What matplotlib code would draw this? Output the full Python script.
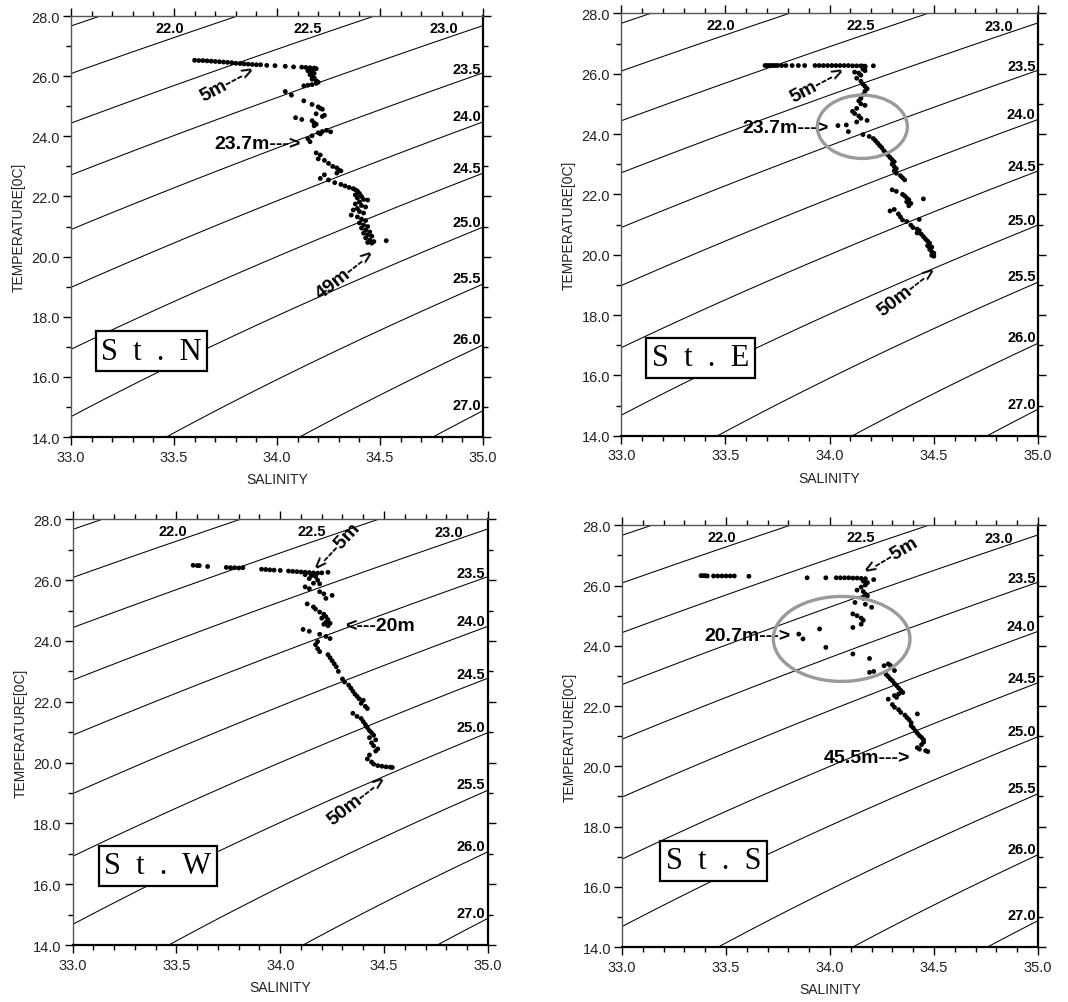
import numpy as np
import matplotlib
matplotlib.use("Agg")
import matplotlib.pyplot as plt
from matplotlib.patches import Ellipse
from matplotlib.ticker import MultipleLocator, FormatStrFormatter

plt.rcParams['font.family'] = ['Liberation Sans', 'DejaVu Sans']

# ---------------- data ----------------
sigma_levels = [21.0, 21.5, 22.0, 22.5, 23.0, 23.5, 24.0, 24.5, 25.0, 25.5, 26.0]

top_labels = ["22.0", "22.5", "23.0"]
top_label_sal = [33.48, 34.15, 34.81]
top_label_temp = [27.61, 27.61, 27.59]
right_labels = ["23.5", "24.0", "24.5", "25.0", "25.5", "26.0", "27.0"]
right_label_temp = [26.25, 24.66, 22.93, 21.16, 19.28, 17.27, 15.05]

sal_N = [33.60, 33.62, 33.64, 33.66, 33.68, 33.70, 33.72, 33.74, 33.76, 33.78, 33.80, 33.82, 33.84,
         33.86, 33.88, 33.90, 33.92, 33.95, 33.99, 34.04, 34.08, 34.12,
         34.14, 34.16, 34.18, 34.19, 34.17, 34.15, 34.17, 34.18, 34.16, 34.17, 34.18, 34.17, 34.19,
         34.20, 34.19, 34.17, 34.15, 34.13,
         34.04, 34.07, 34.13, 34.17, 34.20, 34.21, 34.22, 34.19, 34.23, 34.22, 34.09, 34.12, 34.17,
         34.18, 34.19, 34.18, 34.20, 34.22, 34.24, 34.26, 34.21, 34.17, 34.15, 34.16, 34.19, 34.21,
         34.20, 34.23, 34.25, 34.27, 34.29, 34.30, 34.31, 34.29, 34.23, 34.21, 34.25, 34.28, 34.31,
         34.33, 34.35, 34.37, 34.38, 34.39, 34.40, 34.38, 34.41, 34.39, 34.42, 34.44, 34.40, 34.38,
         34.41, 34.43, 34.39, 34.37, 34.40, 34.42, 34.36, 34.39, 34.41, 34.43, 34.40, 34.42, 34.44,
         34.41, 34.43, 34.45, 34.42, 34.44, 34.46, 34.43, 34.45, 34.47, 34.44, 34.46, 34.53]
temp_N = [26.53, 26.52, 26.52, 26.51, 26.50, 26.49, 26.48, 26.47, 26.46, 26.45, 26.43, 26.42, 26.41,
          26.40, 26.39, 26.38, 26.38, 26.36, 26.35, 26.33, 26.31, 26.30,
          26.29, 26.28, 26.27, 26.25, 26.22, 26.18, 26.14, 26.10, 26.05, 26.00, 25.95, 25.90, 25.85,
          25.80, 25.76, 25.72, 25.70, 25.68,
          25.49, 25.37, 25.18, 25.06, 24.98, 24.93, 24.90, 24.75, 24.70, 24.66, 24.62, 24.56, 24.52,
          24.45, 24.40, 24.35, 24.12, 24.16, 24.20, 24.15, 24.08, 24.02, 23.92, 23.82, 23.45, 23.38,
          23.25, 23.20, 23.10, 23.00, 22.95, 22.88, 22.85, 22.78, 22.72, 22.60, 22.55, 22.46, 22.40,
          22.35, 22.30, 22.26, 22.22, 22.18, 22.10, 22.05, 22.00, 21.95, 21.90, 21.88, 21.82, 21.75,
          21.70, 21.65, 21.60, 21.55, 21.50, 21.45, 21.38, 21.32, 21.25, 21.20, 21.12, 21.05, 21.00,
          20.95, 20.88, 20.82, 20.78, 20.72, 20.68, 20.62, 20.55, 20.50, 20.47, 20.45, 20.53]

sal_E = [33.69, 33.70, 33.71, 33.72, 33.73, 33.74, 33.75, 33.77, 33.79, 33.82, 33.85, 33.88, 33.93,
         33.95, 33.97, 33.99, 34.01, 34.03, 34.05, 34.07, 34.09, 34.11, 34.13, 34.15, 34.16, 34.17,
         34.21,
         34.17, 34.16, 34.17, 34.12, 34.14, 34.15, 34.13, 34.15, 34.16, 34.17, 34.18, 34.17, 34.16,
         34.15, 34.14, 34.15, 34.17, 34.13, 34.11, 34.12, 34.14, 34.15, 34.18, 34.13, 34.08, 34.04,
         34.09, 34.16, 34.19, 34.21, 34.22, 34.23, 34.24, 34.25, 34.26, 34.27, 34.28, 34.29, 34.30,
         34.31, 34.30, 34.31, 34.32, 34.31, 34.32, 34.34, 34.35, 34.36, 34.30, 34.32, 34.35, 34.36,
         34.37, 34.38, 34.37, 34.39, 34.38, 34.45, 34.29, 34.31, 34.33, 34.34, 34.35, 34.37, 34.43,
         34.39, 34.40, 34.42, 34.43, 34.42, 34.44, 34.45, 34.46, 34.47, 34.48, 34.47, 34.49, 34.48,
         34.49, 34.50, 34.49, 34.50]
temp_E = [26.27, 26.27, 26.27, 26.27, 26.27, 26.27, 26.27, 26.27, 26.27, 26.27, 26.27, 26.27, 26.27,
          26.27, 26.27, 26.27, 26.27, 26.27, 26.27, 26.27, 26.27, 26.26, 26.26, 26.26, 26.25, 26.25,
          26.26,
          26.22, 26.15, 26.10, 26.05, 26.02, 25.95, 25.85, 25.75, 25.65, 25.58, 25.50, 25.42, 25.30,
          25.18, 25.10, 25.00, 24.95, 24.85, 24.75, 24.68, 24.60, 24.52, 24.45, 24.40, 24.30, 24.28,
          24.08, 23.98, 23.92, 23.85, 23.78, 23.70, 23.62, 23.55, 23.45, 23.38, 23.30, 23.22, 23.15,
          23.08, 23.00, 22.92, 22.85, 22.78, 22.70, 22.62, 22.55, 22.48, 22.15, 22.10, 22.00, 21.95,
          21.88, 21.82, 21.75, 21.70, 21.62, 21.85, 21.45, 21.50, 21.35, 21.25, 21.15, 21.10, 21.17,
          20.98, 20.90, 20.85, 20.80, 20.72, 20.68, 20.60, 20.52, 20.45, 20.38, 20.30, 20.25, 20.18,
          20.10, 20.05, 19.98, 19.95]

sal_W = [33.58, 33.60, 33.61, 33.65, 33.74, 33.76, 33.78, 33.80, 33.82, 33.91, 33.93, 33.95, 33.97,
         34.00, 34.04, 34.06, 34.08, 34.10, 34.12, 34.14, 34.16, 34.18, 34.20, 34.23,
         34.12, 34.15, 34.17, 34.14, 34.18, 34.16, 34.19, 34.12, 34.14, 34.19, 34.21, 34.25, 34.22,
         34.13, 34.16, 34.17, 34.19, 34.21, 34.22, 34.20, 34.23, 34.22, 34.24, 34.21, 34.23, 34.11,
         34.14, 34.19, 34.22, 34.24, 34.18, 34.17, 34.18, 34.19, 34.23, 34.24, 34.25, 34.26, 34.27,
         34.28, 34.30, 34.31, 34.33, 34.34, 34.35, 34.36, 34.37, 34.38, 34.40, 34.39, 34.41, 34.42,
         34.35, 34.37, 34.39, 34.40, 34.41, 34.42, 34.43, 34.44, 34.45, 34.43, 34.46, 34.44, 34.45,
         34.47, 34.46, 34.43, 34.42, 34.44, 34.45, 34.47, 34.49, 34.51, 34.53, 34.54]
temp_W = [26.49, 26.48, 26.48, 26.45, 26.42, 26.41, 26.41, 26.40, 26.41, 26.36, 26.35, 26.34, 26.33,
          26.32, 26.30, 26.29, 26.28, 26.27, 26.26, 26.25, 26.24, 26.23, 26.24, 26.26,
          26.18, 26.15, 26.12, 26.05, 26.00, 25.90, 25.88, 25.78, 25.72, 25.62, 25.55, 25.50, 25.40,
          25.22, 25.12, 25.05, 24.95, 24.88, 24.80, 24.75, 24.70, 24.62, 24.58, 24.55, 24.50, 24.38,
          24.32, 24.22, 24.15, 24.08, 23.98, 23.88, 23.75, 23.65, 23.55, 23.45, 23.35, 23.25, 23.15,
          23.00, 22.75, 22.65, 22.55, 22.45, 22.35, 22.25, 22.18, 22.10, 22.05, 21.95, 21.85, 21.78,
          21.62, 21.52, 21.45, 21.35, 21.25, 21.15, 21.05, 20.98, 20.90, 20.82, 20.75, 20.65, 20.55,
          20.45, 20.38, 20.25, 20.12, 20.02, 19.95, 19.90, 19.88, 19.86, 19.85, 19.84]

sal_S = [33.38, 33.39, 33.40, 33.41, 33.44, 33.46, 33.48, 33.50, 33.52, 33.54, 33.61, 33.89, 33.98,
         34.03, 34.05, 34.07, 34.09, 34.11, 34.13, 34.15, 34.17, 34.21,
         34.16, 34.18, 34.17, 34.15, 34.13, 34.16, 34.17, 34.18, 34.16, 34.12, 34.17, 34.20, 34.11,
         34.13, 34.15, 34.16, 34.15, 34.11, 33.95, 33.85, 33.87, 33.98, 34.11, 34.19, 34.19, 34.21,
         34.26, 34.28, 34.29, 34.31, 34.27, 34.28, 34.29, 34.30, 34.31, 34.32, 34.33, 34.34, 34.35,
         34.33, 34.31, 34.28, 34.32, 34.30, 34.31, 34.33, 34.34, 34.36, 34.37, 34.42, 34.38, 34.39,
         34.39, 34.40, 34.41, 34.42, 34.43, 34.44, 34.45, 34.45, 34.44, 34.42, 34.43, 34.46, 34.47]
temp_S = [26.33, 26.33, 26.33, 26.32, 26.32, 26.32, 26.32, 26.32, 26.32, 26.32, 26.31, 26.26, 26.26,
          26.26, 26.26, 26.26, 26.26, 26.25, 26.25, 26.24, 26.23, 26.20,
          26.15, 26.10, 26.02, 25.95, 25.85, 25.80, 25.72, 25.66, 25.58, 25.44, 25.38, 25.28, 25.06,
          25.00, 24.92, 24.85, 24.72, 24.61, 24.56, 24.39, 24.23, 23.95, 23.73, 23.58, 23.12, 23.15,
          23.34, 23.40, 23.35, 23.18, 23.05, 22.98, 22.90, 22.84, 22.75, 22.68, 22.60, 22.52, 22.45,
          22.40, 22.35, 22.23, 22.29, 22.05, 21.96, 21.88, 21.79, 21.70, 21.62, 21.74, 21.55, 21.45,
          21.35, 21.28, 21.18, 21.10, 21.02, 20.96, 20.88, 20.80, 20.72, 20.62, 20.57, 20.52, 20.49]


def sigma_t(S, T):
    rw = (999.842594 + 6.793952e-2 * T - 9.095290e-3 * T**2 + 1.001685e-4 * T**3
          - 1.120083e-6 * T**4 + 6.536332e-9 * T**5)
    A = 8.24493e-1 - 4.0899e-3 * T + 7.6438e-5 * T**2 - 8.2467e-7 * T**3 + 5.3875e-9 * T**4
    B = -5.72466e-3 + 1.0227e-4 * T - 1.6546e-6 * T**2
    C = 4.8314e-4
    return rw + A * S + B * S**1.5 + C * S**2 - 1000.0


fig = plt.figure(figsize=(10.68, 10.03), dpi=100)
fig.patch.set_facecolor("white")

panels = [
    dict(rect=[0.0665, 0.5633, 0.3858, 0.4197], sal=sal_N, temp=temp_N, name="S  t  .  N",
         box=(33.39, 16.85),
         notes=[("5m--->", 33.76, 25.76, 28), ("23.7m--->", 33.905, 23.77, 0), ("49m--->", 34.33, 19.42, 38)],
         ellipse=None),
    dict(rect=[0.5817, 0.5646, 0.3902, 0.4211], sal=sal_E, temp=temp_E, name="S  t  .  E",
         box=(33.38, 16.59),
         notes=[("5m--->", 33.94, 25.66, 28), ("23.7m--->", 33.79, 24.22, 0), ("50m--->", 34.37, 18.81, 38)],
         ellipse=(34.157, 24.24, 0.432, 2.10)),
    dict(rect=[0.0681, 0.0568, 0.3886, 0.4244], sal=sal_W, temp=temp_W, name="S  t  .  W",
         box=(33.41, 16.60),
         notes=[("<---5m", 34.275, 27.11, 47), ("<---20m", 34.48, 24.50, 0), ("50m--->", 34.37, 18.78, 38)],
         ellipse=None),
    dict(rect=[0.5824, 0.0548, 0.3895, 0.4204], sal=sal_S, temp=temp_S, name="S  t  .  S",
         box=(33.44, 16.87),
         notes=[("<---5m", 34.295, 26.97, 31), ("20.7m--->", 33.605, 24.34, 0), ("45.5m--->", 34.18, 20.30, 0)],
         ellipse=(34.056, 24.23, 0.657, 2.82)),
]

Sg = np.linspace(33.0, 35.0, 300)
Tg = np.linspace(14.0, 28.0, 300)
SS, TT = np.meshgrid(Sg, Tg)
SIG = sigma_t(SS, TT)

for p in panels:
    ax = fig.add_axes(p["rect"])
    ax.contour(SS, TT, SIG, levels=sigma_levels, colors="black", linewidths=0.75)
    ax.set_xlim(33.0, 35.0)
    ax.set_ylim(14.0, 28.0)

    for lab, s, t in zip(top_labels, top_label_sal, top_label_temp):
        ax.text(s, t, lab, ha="center", va="center", fontsize=10.5, fontweight="bold")
    for lab, t in zip(right_labels, right_label_temp):
        ax.text(34.92, t, lab, ha="center", va="center", fontsize=10.5, fontweight="bold")

    ax.scatter(p["sal"], p["temp"], s=12, color="black", edgecolors="none", zorder=5)

    for txt, s, t, rot in p["notes"]:
        ax.text(s, t, txt, ha="center", va="center", rotation=rot, rotation_mode="anchor",
                fontsize=14, fontweight="bold", zorder=6)

    if p["ellipse"] is not None:
        cx, cy, w, h = p["ellipse"]
        ax.add_patch(Ellipse((cx, cy), w, h, fill=False, edgecolor="#9a9a9a", linewidth=2.4, zorder=7))

    bx, by = p["box"]
    ax.text(bx, by, p["name"], ha="center", va="center", fontsize=22,
            family=["Liberation Serif", "DejaVu Serif"], zorder=8,
            bbox=dict(boxstyle="square,pad=0.18", facecolor="white", edgecolor="black", linewidth=1.6))

    ax.xaxis.set_major_locator(MultipleLocator(0.5))
    ax.xaxis.set_minor_locator(MultipleLocator(0.1))
    ax.yaxis.set_major_locator(MultipleLocator(2.0))
    ax.yaxis.set_minor_locator(MultipleLocator(1.0))
    ax.xaxis.set_major_formatter(FormatStrFormatter("%.1f"))
    ax.yaxis.set_major_formatter(FormatStrFormatter("%.1f"))
    ax.tick_params(axis="both", which="major", direction="out", length=6, width=1,
                   labelsize=10.5, colors="black", labelcolor="#222222", top=True, right=True)
    ax.tick_params(axis="both", which="minor", direction="out", length=3.5, width=1,
                   top=True, right=True)
    ax.tick_params(axis="y", which="both", right=True)
    ax.yaxis.set_tick_params(which="major", pad=2)
    ax.xaxis.set_tick_params(which="major", pad=3)
    for side in ["left", "top"]:
        ax.spines[side].set_color("#555555")
        ax.spines[side].set_linewidth(1.0)
    for side in ["bottom", "right"]:
        ax.spines[side].set_color("black")
        ax.spines[side].set_linewidth(1.6)

    ax.set_xlabel("SALINITY", fontsize=10, color="#222222", labelpad=6)
    ax.set_ylabel("TEMPERATURE[0C]", fontsize=10, color="#222222", labelpad=4)

fig.savefig("out.png", dpi=100, facecolor="white")
